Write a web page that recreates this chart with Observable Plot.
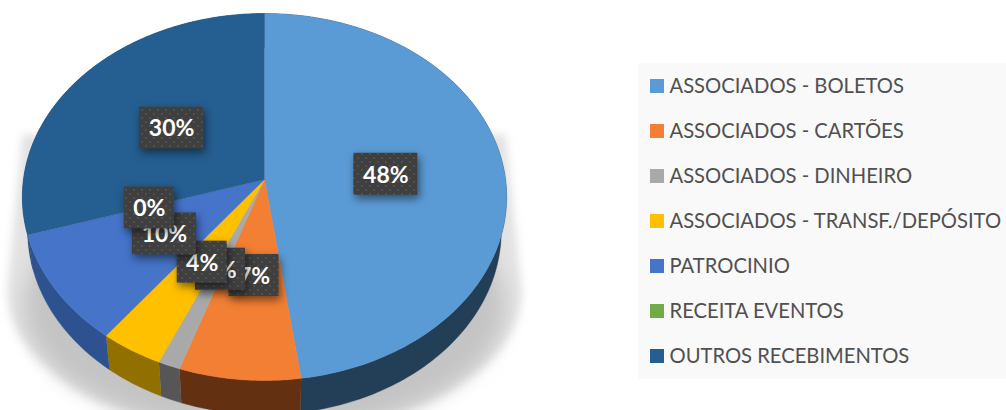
<!DOCTYPE html>
<html><head><meta charset="utf-8">
<script src="https://cdn.jsdelivr.net/npm/d3@7"></script>
<script src="https://cdn.jsdelivr.net/npm/@observablehq/plot@0.6"></script>
<style>html,body{margin:0;padding:0;background:#fff;overflow:hidden}svg{display:block}</style>
</head><body><div id="chart"></div>
<script>
const categories = ["ASSOCIADOS - BOLETOS","ASSOCIADOS - CARTÕES","ASSOCIADOS - DINHEIRO","ASSOCIADOS - TRANSF./DEPÓSITO","PATROCINIO","RECEITA EVENTOS","OUTROS RECEBIMENTOS"];
const shares = [47.8, 7.4, 1.35, 3.85, 9.8, 0.0, 29.8];
const labels = ["48%","7%","1%","4%","10%","0%","30%"];
const faceColors = ["#5b9bd5","#f27f33","#a9a9a9","#ffc000","#4674c8","#70ad47","#255e91"];
const wallColors = ["#233f57","#633112","#565656","#917000","#2e5290","#3f6628","#1b4569"];

// tilted-disc projection (unit circle -> chart units, origin at the pie centre)
const R = 241, S = 181.8, K = 0.0954, DEPTH = 34, SHRINK = 0.978;
const proj = (deg, rho = 1) => {
  const a = deg * Math.PI / 180, u = rho * Math.sin(a), v = rho * Math.cos(a), d = 1 + K * v;
  return [R * u / d, S * v / d];
};
const low = ([x, y]) => [x * SHRINK, y - DEPTH];
const total = d3.sum(shares);
let acc = 0;
const slices = categories.map((c, i) => {
  const a0 = acc / total * 360; acc += shares[i];
  return {cat: c, i, a0, a1: acc / total * 360, mid: (a0 + acc / total * 360) / 2, label: labels[i]};
});
const arc = (s) => { const n = Math.max(1, Math.ceil((s.a1 - s.a0))), o = [];
  for (let j = 0; j <= n; j++) o.push(s.a0 + (s.a1 - s.a0) * j / n); return o; };
const face = slices.flatMap(s => s.a1 > s.a0 ? [[0, 0], ...arc(s).map(a => proj(a))].map(p => ({cat: s.cat, x: p[0], y: p[1]})) : []);
const wall = slices.flatMap(s => s.a1 > s.a0 ? [...arc(s).map(a => proj(a)), ...arc(s).reverse().map(a => low(proj(a)))].map(p => ({col: wallColors[s.i], x: p[0], y: p[1]})) : []);

// soft shadow on the floor
const sh = d3.range(0, 360, 2).map(a => { const t = a * Math.PI / 180; return [257 * Math.sin(t), -112 + 142 * Math.cos(t)]; });
const shadowHull = d3.polygonHull([...sh, [-242, 45], [241, 45]]).map(p => ({x: p[0], y: p[1]}));
const shadow2 = d3.range(0, 360, 2).map(a => { const t = a * Math.PI / 180; return {x: 240 * Math.sin(t), y: -126 + 128 * Math.cos(t)}; });

const X = px => px - 264, Y = py => 179 - py;
const boxes = slices.map(s => { const p = proj(s.mid, 0.5), c = [p[0] + 1.5, p[1] - 1], w = s.label.length > 2 ? 32 : 25; return {...s, cx: c[0], cy: c[1], x1: c[0] - w, x2: c[0] + w, y1: c[1] - 21, y2: c[1] + 21}; });
const fam = "Lato, sans-serif";

const legendRows = categories.map((c, i) => ({cat: c, x1: X(650), x2: X(664), y1: Y(79 + 45 * i), y2: Y(93 + 45 * i), tx: X(669), ty: Y(86 + 45 * i)}));

const plot = Plot.plot({
  width: 1006, height: 410, margin: 0,
  x: {domain: [-264, 742], range: [0, 1006], axis: null},
  y: {domain: [179, -231], range: [0, 410], axis: null},
  color: {domain: categories, range: faceColors},
  style: {background: "#fff", overflow: "hidden"},
  marks: [
    Plot.line(shadowHull, {x: "x", y: "y", fill: "#e2e2e2", stroke: "none", imageFilter: "blur(4px)"}),
    Plot.line(shadow2, {x: "x", y: "y", fill: "#c4c4c4", stroke: "none", imageFilter: "blur(10px)"}),
    Plot.line(wall, {x: "x", y: "y", z: "col", fill: {value: "col", scale: null}, stroke: {value: "col", scale: null}, strokeWidth: 0.4}),
    Plot.line(face, {x: "x", y: "y", z: "cat", fill: "cat", stroke: "cat", strokeWidth: 0.4}),
    ...boxes.flatMap(b => [
      Plot.rect([b], {x1: "x1", x2: "x2", y1: "y1", y2: "y2", fill: "url(#dots)", imageFilter: "drop-shadow(2px 4px 4px rgba(0,0,0,.5))"}),
      Plot.text([b], {x: "cx", y: "cy", dy: 1, text: "label", fill: "#fff", fontSize: 23, fontWeight: 700, fontFamily: fam, lineAnchor: "middle"})
    ]),
    Plot.rect([0], {x1: X(638), x2: X(1006), y1: Y(63), y2: Y(379), fill: "#f9f9f9"}),
    Plot.rect(legendRows, {x1: "x1", x2: "x2", y1: "y1", y2: "y2", fill: "cat"}),
    Plot.text(legendRows, {x: "tx", y: "ty", text: "cat", textAnchor: "start", lineAnchor: "middle", fill: "#505050", fontSize: 20.2, fontFamily: fam})
  ]
});
const ns = "http://www.w3.org/2000/svg";
const defs = document.createElementNS(ns, "defs");
const pat = document.createElementNS(ns, "pattern");
pat.setAttribute("id", "dots"); pat.setAttribute("width", 8); pat.setAttribute("height", 8); pat.setAttribute("patternUnits", "userSpaceOnUse");
const bg = document.createElementNS(ns, "rect"); bg.setAttribute("width", 8); bg.setAttribute("height", 8); bg.setAttribute("fill", "#3f3f3f"); pat.appendChild(bg);
[[2, 2], [6, 6]].forEach(([x, y]) => { const c = document.createElementNS(ns, "circle"); c.setAttribute("cx", x); c.setAttribute("cy", y); c.setAttribute("r", 0.9); c.setAttribute("fill", "#575757"); pat.appendChild(c); });
defs.appendChild(pat); plot.insertBefore(defs, plot.firstChild);
document.getElementById("chart").appendChild(plot);
</script></body></html>
